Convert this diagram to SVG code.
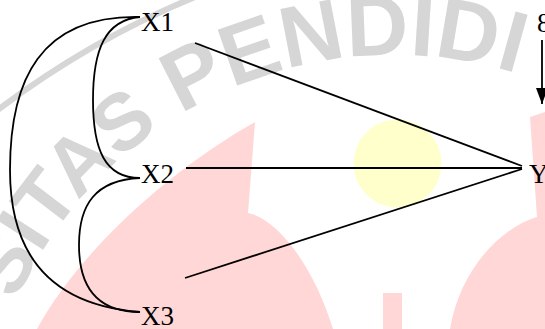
<svg xmlns="http://www.w3.org/2000/svg" width="545" height="329" viewBox="0 0 545 329">
  <style>
    .lbl { font-family: "Liberation Serif", "Times New Roman", serif; font-size: 27px; fill: #000; }
    .edge { fill: none; stroke: #000; stroke-width: 1.8; }
    .wm { fill: #ffd7d7; }
    .wmtext { font-family: "Liberation Sans", Arial, sans-serif; font-weight: bold; font-size: 80px; fill: #d6d6d6; }
  </style>
  <defs>
    <path id="arc" d="M -13.7,397.9 A 415 415 0 0 1 602.5,110.6"/>
    <marker id="ahbig" viewBox="0 0 16 12" refX="16" refY="6" markerWidth="16" markerHeight="12" markerUnits="userSpaceOnUse" orient="auto">
      <path d="M0,0 L16,6 L0,12 Z" fill="#000"/>
    </marker>
  </defs>
  <rect width="545" height="329" fill="#fff"/>
  <g id="watermark">
    <path class="wm" d="M37,329 C80,250 170,170 255,122 L248,213 C280,220 315,270 333,329 Z"/>
    <path class="wm" d="M530,117 L545,112 L545,329 L450,329 C460,270 500,228 537,217 Z"/>
    <rect class="wm" x="383" y="293" width="19" height="36"/>
    <circle cx="397.5" cy="163.5" r="44" fill="#ffffcc"/>
    <path d="M -5,112 Q 90,40 195,-3" fill="none" stroke="#d6d6d6" stroke-width="6"/>
    <text class="wmtext"><textPath href="#arc" startOffset="101">SITAS<tspan font-size="86"> PENDIDI</tspan></textPath></text>
  </g>
  <g id="connectors">
    <path class="edge" d="M140,17 C40,15 10,80 10,170 C10,255 50,305 140,312"/>
    <path class="edge" d="M140,17 C105,20 93,50 93,100 C93,150 105,178 140,178"/>
    <path class="edge" d="M140,178 C95,180 79,205 79,245 C79,290 100,312 140,312"/>
    <line class="edge" x1="195" y1="43" x2="522" y2="166"/>
    <line class="edge" x1="186" y1="168" x2="522" y2="168"/>
    <line class="edge" x1="185" y1="278" x2="522" y2="169"/>
    <line class="edge" x1="542" y1="40" x2="542" y2="104" marker-end="url(#ahbig)"/>
  </g>
  <g id="X1"><text class="lbl" x="141" y="31">X1</text></g>
  <g id="X2"><text class="lbl" x="141" y="183">X2</text></g>
  <g id="X3"><text class="lbl" x="141" y="325">X3</text></g>
  <g id="Y"><text class="lbl" x="529" y="183">Y</text></g>
  <g id="e"><text class="lbl" x="537" y="32">8</text></g>
</svg>
